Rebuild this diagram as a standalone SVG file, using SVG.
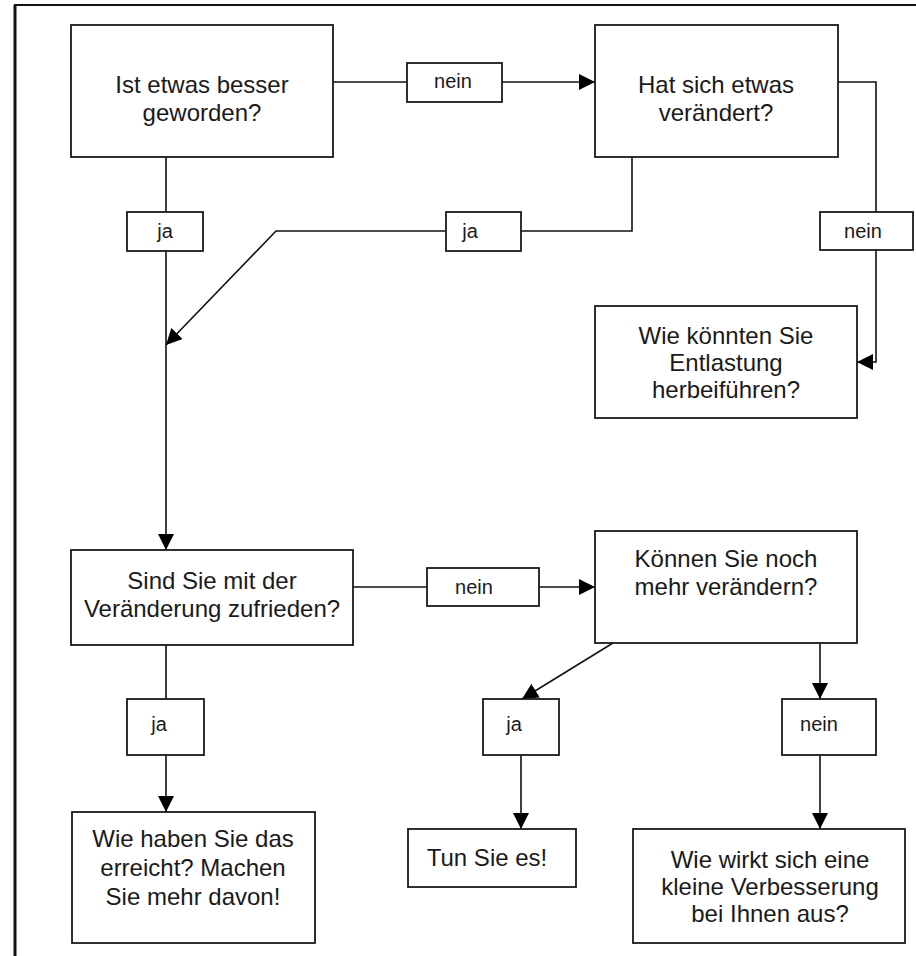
<svg xmlns="http://www.w3.org/2000/svg" width="916" height="956" viewBox="0 0 916 956">
<style>
.box{fill:#fff;stroke:#1a1a1a;stroke-width:1.8}
.t{font-family:"Liberation Sans",Arial,sans-serif;font-size:24px;fill:#1a1a1a;text-anchor:middle}
.l{font-family:"Liberation Sans",Arial,sans-serif;font-size:20px;fill:#1a1a1a;text-anchor:middle}
.c{fill:none;stroke:#111;stroke-width:1.6}
</style>
<defs>
<marker id="ah" markerUnits="userSpaceOnUse" markerWidth="16" markerHeight="16" refX="16" refY="8" orient="auto">
<path d="M0,0 L16,8 L0,16 z" fill="#000"/>
</marker>
</defs>
<rect width="916" height="956" fill="#fff"/>
<g id="frame">
<path d="M14,5 H916" stroke="#111" stroke-width="2" fill="none"/>
<path d="M15,5 V956" stroke="#111" stroke-width="3" fill="none"/>
</g>
<g id="connectors">
<path class="c" d="M333,82 H407"/>
<path class="c" d="M502,82 H595" marker-end="url(#ah)"/>
<path class="c" d="M166,157 V212"/>
<path class="c" d="M166,251 V550" marker-end="url(#ah)"/>
<path class="c" d="M632,157 V231 H521"/>
<path class="c" d="M446,231 H276 L166,345" marker-end="url(#ah)"/>
<path class="c" d="M838,82 H876 V212"/>
<path class="c" d="M876,250 V362 H857" marker-end="url(#ah)"/>
<path class="c" d="M166,645 V699"/>
<path class="c" d="M166,755 V812" marker-end="url(#ah)"/>
<path class="c" d="M353,587 H427"/>
<path class="c" d="M539,587 H595" marker-end="url(#ah)"/>
<path class="c" d="M613,643 L522,699" stroke-width="1.2" marker-end="url(#ah)"/>
<path class="c" d="M521,755 V829" marker-end="url(#ah)"/>
<path class="c" d="M820,643 V699" marker-end="url(#ah)"/>
<path class="c" d="M820,755 V829" marker-end="url(#ah)"/>
</g>
<g id="n1"><rect class="box" x="71" y="25" width="262" height="132"/>
<text class="t" x="202" y="93">Ist etwas besser</text><text class="t" x="202" y="121">geworden?</text></g>
<g id="n2"><rect class="box" x="595" y="25" width="243" height="132"/>
<text class="t" x="716" y="93">Hat sich etwas</text><text class="t" x="716" y="121">verändert?</text></g>
<g id="n3"><rect class="box" x="595" y="306" width="262" height="112"/>
<text class="t" x="726" y="344">Wie könnten Sie</text><text class="t" x="726" y="371">Entlastung</text><text class="t" x="726" y="398">herbeiführen?</text></g>
<g id="n4"><rect class="box" x="71" y="550" width="282" height="95"/>
<text class="t" x="212" y="589">Sind Sie mit der</text><text class="t" x="212" y="617">Veränderung zufrieden?</text></g>
<g id="n5"><rect class="box" x="595" y="531" width="262" height="112"/>
<text class="t" x="726" y="567">Können Sie noch</text><text class="t" x="726" y="595">mehr verändern?</text></g>
<g id="n6"><rect class="box" x="72" y="812" width="243" height="131"/>
<text class="t" x="193" y="847">Wie haben Sie das</text><text class="t" x="193" y="876">erreicht? Machen</text><text class="t" x="193" y="905">Sie mehr davon!</text></g>
<g id="n7"><rect class="box" x="408" y="829" width="168" height="58"/>
<text class="t" x="487" y="866">Tun Sie es!</text></g>
<g id="n8"><rect class="box" x="633" y="829" width="272" height="114"/>
<text class="t" x="770" y="868">Wie wirkt sich eine</text><text class="t" x="770" y="895">kleine Verbesserung</text><text class="t" x="770" y="922">bei Ihnen aus?</text></g>
<g id="l1"><rect class="box" x="407" y="63" width="95" height="39"/><text class="l" x="453" y="88">nein</text></g>
<g id="l2"><rect class="box" x="127" y="212" width="76" height="39"/><text class="l" x="165" y="238">ja</text></g>
<g id="l3"><rect class="box" x="446" y="212" width="75" height="39"/><text class="l" x="470" y="238">ja</text></g>
<g id="l4"><rect class="box" x="820" y="212" width="93" height="38"/><text class="l" x="863" y="238">nein</text></g>
<g id="l5"><rect class="box" x="427" y="568" width="112" height="38"/><text class="l" x="474" y="594">nein</text></g>
<g id="l6"><rect class="box" x="127" y="699" width="77" height="56"/><text class="l" x="159" y="731">ja</text></g>
<g id="l7"><rect class="box" x="483" y="699" width="76" height="56"/><text class="l" x="514" y="731">ja</text></g>
<g id="l8"><rect class="box" x="782" y="699" width="94" height="56"/><text class="l" x="819" y="731">nein</text></g>
</svg>
